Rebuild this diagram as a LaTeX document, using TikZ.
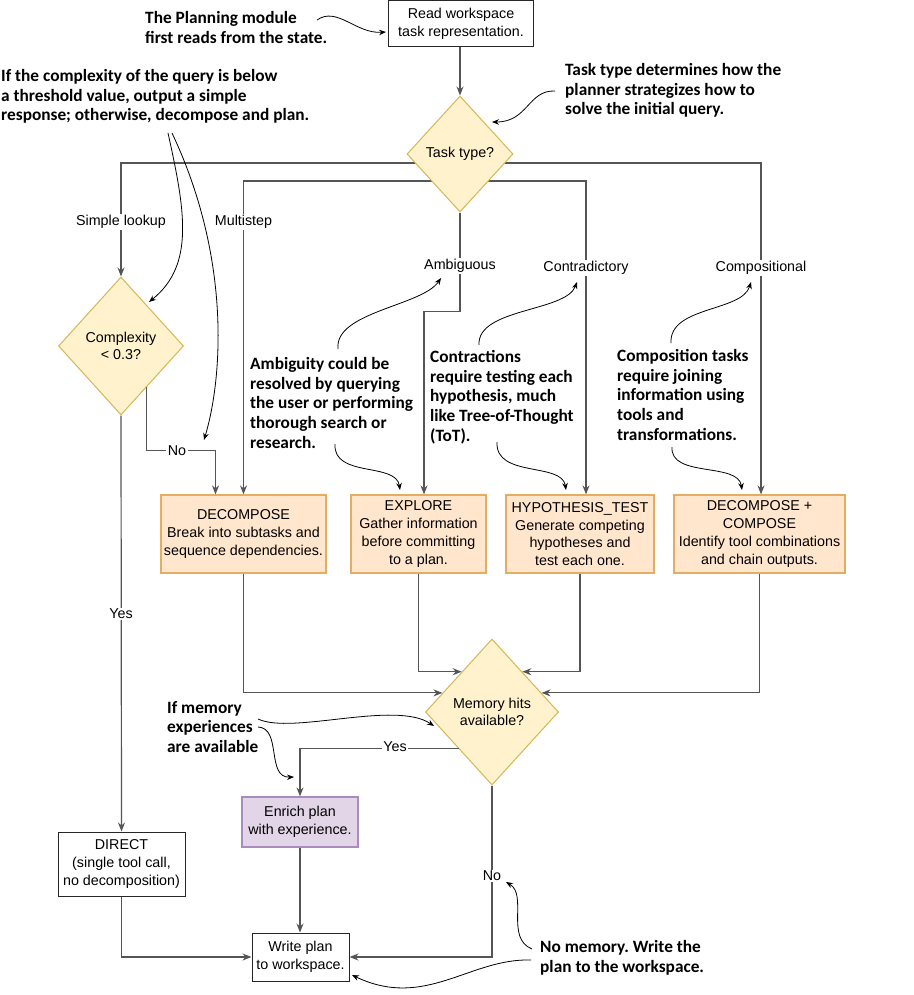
\documentclass[tikz,border=0pt]{standalone}
\usepackage{fontspec}
\setmainfont{Liberation Sans}
\newfontfamily\annfont{Carlito}
\usetikzlibrary{shapes.geometric,arrows.meta,calc,backgrounds}
\frenchspacing

\definecolor{dfill}{HTML}{FFF2CC}
\definecolor{ddraw}{HTML}{D6B656}
\definecolor{pfill}{HTML}{FFE6CC}
\definecolor{pdraw}{HTML}{E3AE63}
\definecolor{lfill}{HTML}{E1D5E7}
\definecolor{ldraw}{HTML}{A98BBE}
\definecolor{lineg}{HTML}{555555}

\tikzset{
 txt/.style={font=\fontsize{14.3}{17.7}\selectfont, align=center, inner sep=0pt},
 wbox/.style={txt, rectangle, draw=black!85, line width=1pt, fill=white},
 pbox/.style={txt, rectangle, draw=pdraw, line width=1.2pt, fill=pfill},
 lbox/.style={txt, rectangle, draw=ldraw, line width=1.2pt, fill=lfill},
 dia/.style={txt, diamond, draw=ddraw, line width=1pt, fill=dfill},
 conn/.style={draw=lineg, line width=1.2pt, -{Stealth[length=9pt,width=7pt]}},
 lbl/.style={txt, fill=white, inner sep=1.5pt},
 ann/.style={font=\annfont\bfseries\fontsize{17.3}{19.7}\selectfont, align=left, inner sep=0pt, anchor=north west},
 annarr/.style={draw=black, line width=0.8pt, -{Stealth[length=7pt,width=5.5pt]}},
}

\begin{document}
\begin{tikzpicture}[x=1pt,y=-1pt]
\useasboundingbox (0,0) rectangle (913,995);

% nodes
\node[wbox, minimum width=145pt, minimum height=46pt] (read) at (461,24) {Read workspace\\task representation.};
\node[dia, minimum width=106pt, minimum height=116pt] (task) at (460,154) {Task type?};
\node[dia, minimum width=125pt, minimum height=138pt] (cplx) at (121,346) {Complexity\\< 0.3?};
\node[pbox, minimum width=165pt, minimum height=78pt] (dec) at (243.5,534) {DECOMPOSE\\Break into subtasks and\\sequence dependencies.};
\node[pbox, minimum width=135pt, minimum height=78pt] (exp) at (418.5,534) {EXPLORE\\Gather information\\before committing\\to a plan.};
\node[pbox, minimum width=148pt, minimum height=78pt] (hyp) at (580,534) {HYPOTHESIS\_TEST\\Generate competing\\hypotheses and\\test each one.};
\node[pbox, minimum width=171pt, minimum height=78pt] (dcc) at (759.5,534) {DECOMPOSE +\\COMPOSE\\Identify tool combinations\\and chain outputs.};
\node[dia, minimum width=133pt, minimum height=146pt] (mem) at (492,712) {Memory hits\\available?};
\node[lbox, minimum width=116pt, minimum height=50pt] (enr) at (300,822) {Enrich plan\\with experience.};
\node[wbox, minimum width=127pt, minimum height=64pt] (direct) at (121.5,864) {DIRECT\\(single tool call,\\no decomposition)};
\node[wbox, minimum width=97pt, minimum height=48pt] (write) at (300.5,957) {Write plan\\to workspace.};

% connectors behind the task diamond
\begin{scope}[on background layer]
\fill[white] (0,0) rectangle (913,995);
\draw[conn] ($(task.center)+(0,9)$) -| (cplx.north);
\draw[conn] ($(task.center)+(0,9)$) -| ($(dcc.north)+(1.5,0)$);
\draw[conn] ($(task.center)+(0,27)$) -| (dec.north);
\draw[conn] ($(task.center)+(0,27)$) -| ($(hyp.north)+(6,0)$);
\draw[conn] (task.south) -- ++(0,99) -| ($(exp.north)+(5.5,0)$);
\end{scope}

\draw[conn] (task.north |- read.south) -- (task.north);

% complexity branches
\coordinate (noA) at ($(cplx.east)!0.59!(cplx.south)$);
\draw[conn] (noA) |- ($(dec.north)+(-28,-44)$) -- ($(dec.north)+(-28,0)$);
\draw[conn] (cplx.south) -- (direct.north);

% into memory diamond
\draw[conn] (dec.south) |- ($(mem.west)!0.26!(mem.north)$);
\draw[conn] (exp.south) |- ($(mem.west)!0.548!(mem.north)$);
\draw[conn] (hyp.south) |- ($(mem.east)!0.548!(mem.north)$);
\draw[conn] (dcc.south) |- ($(mem.east)!0.26!(mem.north)$);

% memory branches
\draw[conn] ($(mem.west)!0.5!(mem.south)$) -| (enr.north);
\draw[conn] (enr.south) -- (enr.south |- write.north);
\draw[conn] (mem.south) |- (write.east);
\draw[conn] (direct.south) |- (write.west);

% labels on connectors
\node[lbl] at (121,222) {Simple lookup};
\node[lbl] at (243.5,222) {Multistep};
\node[lbl] at (460,266) {Ambiguous};
\node[lbl] at (586,268) {Contradictory};
\node[lbl] at (761,268) {Compositional};
\node[lbl] at (177,451) {No};
\node[lbl] at (121,614) {Yes};
\node[lbl] at (395,747) {Yes};
\node[lbl] at (492,876) {No};

% annotations
\node[ann] (planA) at (145,11) {The Planning module\\first reads from the state.};
\node[ann] (taskA) at (565,63) {Task type determines how the\\planner strategizes how to\\solve the initial query.};
\node[ann] (cplxA) at (1,69) {If the complexity of the query is below\\a threshold value, output a simple\\response; otherwise, decompose and plan.};
\node[ann] (ambA) at (250,357) {Ambiguity could be\\resolved by querying\\the user or performing\\thorough search or\\research.};
\node[ann] (conA) at (430,350) {Contractions\\require testing each\\hypothesis, much\\like Tree-of-Thought\\(ToT).};
\node[ann] (comA) at (617,349) {Composition tasks\\require joining\\information using\\tools and\\transformations.};
\node[ann] (memA) at (167,701) {If memory\\experiences\\are available};
\node[ann] (nomemA) at (540,940) {No memory. Write the\\plan to the workspace.};

% annotation arrows
\coordinate (p1s) at (317,20);  \coordinate (p1e) at (386,32);
\draw[annarr] (p1s) .. controls (337,6) and (356,34) .. (p1e);
\coordinate (t1s) at (555,91);  \coordinate (t1e) at (492,122);
\draw[annarr] (t1s) .. controls (528,90) and (528,122) .. (t1e);
\coordinate (c1s) at (168,133); \coordinate (c1e) at (149,302);
\draw[annarr] (c1s) .. controls (185,210) and (195,265) .. (c1e);
\coordinate (c2s) at (172,133); \coordinate (c2e) at (204,440);
\draw[annarr] (c2s) .. controls (232,260) and (222,380) .. (c2e);
\coordinate (a1s) at (338,349); \coordinate (a1e) at (441,278);
\draw[annarr] (a1s) .. controls (334,312) and (422,306) .. (a1e);
\coordinate (a2s) at (335,444); \coordinate (a2e) at (400,490);
\draw[annarr] (a2s) .. controls (333,478) and (396,462) .. (a2e);
\coordinate (n1s) at (479,345); \coordinate (n1e) at (577,282);
\draw[annarr] (n1s) .. controls (477,308) and (566,312) .. (n1e);
\coordinate (n2s) at (497,442); \coordinate (n2e) at (566,490);
\draw[annarr] (n2s) .. controls (495,478) and (562,462) .. (n2e);
\coordinate (o1s) at (671,343); \coordinate (o1e) at (751,282);
\draw[annarr] (o1s) .. controls (669,306) and (742,312) .. (o1e);
\coordinate (o2s) at (672,447); \coordinate (o2e) at (742,490);
\draw[annarr] (o2s) .. controls (670,478) and (738,462) .. (o2e);
\coordinate (m1s) at (258,719); \coordinate (m1e) at (434,726);
\draw[annarr] (m1s) .. controls (292,735) and (395,700) .. (m1e);
\coordinate (m2s) at (258,727); \coordinate (m2e) at (294,777);
\draw[annarr] (m2s) .. controls (282,728) and (266,778) .. (m2e);
\coordinate (x1s) at (532,949); \coordinate (x1e) at (506,882);
\draw[annarr] (x1s) .. controls (505,938) and (528,895) .. (x1e);
\coordinate (x2s) at (531,960); \coordinate (x2e) at (352,975);
\draw[annarr] (x2s) .. controls (470,958) and (425,1010) .. (x2e);
\end{tikzpicture}
\end{document}
